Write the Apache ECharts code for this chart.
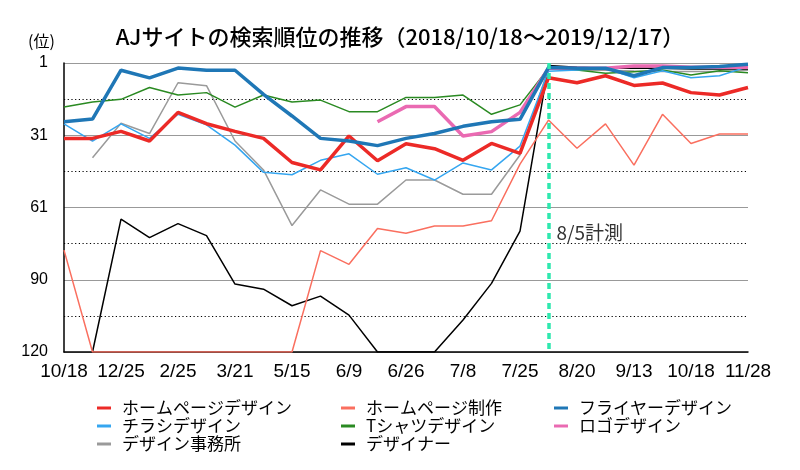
<!DOCTYPE html>
<html><head><meta charset="utf-8">
<script src="https://cdn.jsdelivr.net/npm/echarts@6/dist/echarts.min.js"></script>
<style>html,body{margin:0;padding:0;background:#fff}#c{width:800px;height:470px}</style>
</head><body><div id="c"></div>
<script>
// 25 measurement dates; only every other one is labelled in the original
const categories = ['10/18','','12/25','','2/25','','3/21','','5/15','','6/9','','6/26','','7/8','','7/25','8/5','8/20','','9/13','','10/18','','11/28'];
const yTickValues = [0, 30, 60, 90, 120];
const yTickLabels = ['1', '31', '61', '90', '120'];
const measureIndex = 17;
const measureLabel = '8/5計測';

const homepageDesign = [31.3,31.3,28.4,32.4,20.5,25.2,28.4,31.3,41.3,44.4,30.3,40.6,33.5,35.6,40.4,33.4,37.5,6.1,8.2,5.3,9.3,8.3,12.3,13.3,10.2];
const homepageSeisaku = [77.7,120,120,120,120,120,120,120,120,77.9,83.6,68.7,70.7,67.7,67.7,65.5,42,23.7,35.4,25.3,42.4,21.3,33.4,29.5,29.5];
const flyerDesign = [24.4,23.3,3.0,6.2,2.1,3.0,3.0,13,22,31.3,32.4,34.3,31.3,29.3,26.3,24.4,23.4,1.9,2.2,2.2,5.3,1.9,1.9,1.5,0.5];
const chirashiDesign = [25.3,32.4,25.3,31.3,21.3,25.7,34.1,45.4,46.4,40.4,37.7,46.2,43.5,48.6,41.5,44.4,34.5,3.4,2.9,2.2,6.1,3.2,6.1,5.3,1.5];
const tshirtDesign = [18.3,16.2,15.1,10.2,13.3,12.3,18.3,13.3,16.2,15.4,20.2,20.2,14.3,14.3,13.3,21.3,17.4,2.2,2.9,4.3,3.6,2.9,5.0,3.2,4.0];
const logoDesign = [null,null,null,null,null,null,null,null,null,null,null,24.4,18.1,18.1,30.3,28.5,20.5,2.2,2.2,2.2,1.2,1.2,1.8,1.8,1.8];
const designJimusho = [null,39.3,25,29.3,8.2,9.4,32.4,44.4,67.5,52.7,58.6,58.6,48.6,48.6,54.5,54.5,38.2,2.2,3.0,3.0,3.3,3.5,3.5,3.5,3.0];
const designer = [null,120,64.8,72.5,66.7,71.7,91.8,93.9,100.8,96.8,104.7,120,120,120,106.7,91.5,69.8,1.0,1.8,2.2,2.2,2.2,2.5,2.5,2.5];

const names = ['ホームページデザイン','ホームページ制作','フライヤーデザイン','チラシデザイン','Tシャツデザイン','ロゴデザイン','デザイン事務所','デザイナー'];

const chart = echarts.init(document.getElementById('c'), null, {renderer: 'canvas'});
const jp = '"Noto Sans CJK JP", sans-serif';

function line(name, data, color, width, z) {
  return {name, type: 'line', data, symbol: 'none', connectNulls: false, z,
    lineStyle: {color, width}, itemStyle: {color}};
}

const series = [
  line(names[6], designJimusho, '#9a9a9a', 1.5, 2),
  line(names[7], designer, '#000000', 1.5, 2),
  line(names[1], homepageSeisaku, '#fa6f5f', 1.5, 2),
  line(names[4], tshirtDesign, '#2a8a22', 1.5, 2),
  line(names[3], chirashiDesign, '#35a6f0', 1.5, 2),
  line(names[5], logoDesign, '#ea6ab2', 3.5, 3),
  line(names[0], homepageDesign, '#ec2a27', 3.5, 3),
  line(names[2], flyerDesign, '#1f77b6', 3.5, 4)
];
series[7].markLine = {
  silent: true, symbol: 'none', animation: false,
  lineStyle: {color: '#2ee8ae', width: 3.5, type: [6, 4]},
  label: {show: false},
  data: [{xAxis: measureIndex}]
};
series[7].markPoint = {
  silent: true, symbol: 'circle', symbolSize: 0, animation: false,
  label: {show: true, position: 'right', distance: 8, formatter: measureLabel,
    color: '#333', fontSize: 19, fontFamily: jp},
  data: [{coord: [measureIndex, 70.6]}]
};

const legendCommon = {
  orient: 'vertical', top: 399, itemGap: 0, icon: 'rect', itemWidth: 14, itemHeight: 3, padding: 0,
  textStyle: {fontSize: 17, lineHeight: 18, color: '#000', fontFamily: jp, padding: [0,0,0,6]},
  selectedMode: false
};

chart.setOption({
  animation: false,
  backgroundColor: '#fff',
  title: [
    {text: 'AJサイトの検索順位の推移（2018/10/18～2019/12/17）', left: 'center', top: 21,
      textStyle: {fontSize: 22, fontWeight: 500, color: '#000', fontFamily: jp}},
    {text: '(位)', left: 23, top: 28,
      textStyle: {fontSize: 16, fontWeight: 'normal', color: '#000', fontFamily: jp}}
  ],
  legend: [
    Object.assign({}, legendCommon, {left: 97, data: [names[0], names[3], names[6]]}),
    Object.assign({}, legendCommon, {left: 341, data: [names[1], names[4], names[7]]}),
    Object.assign({}, legendCommon, {left: 554, data: [names[2], names[5]]})
  ],
  grid: {left: 64, right: 52, top: 63, bottom: 118, containLabel: false},
  xAxis: {
    type: 'category', data: categories, boundaryGap: false,
    axisLine: {onZero: false, lineStyle: {color: '#000', width: 1.5}},
    axisTick: {show: false},
    axisLabel: {interval: 1, showMinLabel: true, showMaxLabel: true, hideOverlap: false,
      color: '#000', fontSize: 19, margin: 10,
      fontFamily: '"Liberation Sans", sans-serif'},
    splitLine: {show: false}
  },
  yAxis: {
    type: 'value', inverse: true, min: 0, max: 120, interval: 30,
    axisLine: {show: true, lineStyle: {color: '#000', width: 1.5}},
    axisTick: {show: false},
    axisLabel: {color: '#000', fontSize: 16, margin: 16, fontFamily: '"Liberation Sans", sans-serif',
      formatter: v => { const i = yTickValues.indexOf(v); return i >= 0 ? yTickLabels[i] : ''; }},
    splitLine: {show: true, lineStyle: {color: '#999', width: 1.2}},
    minorTick: {show: false, splitNumber: 2},
    minorSplitLine: {show: true, lineStyle: {color: '#000', width: 1, type: [1.2, 2.5]}}
  },
  series
});
</script></body></html>
